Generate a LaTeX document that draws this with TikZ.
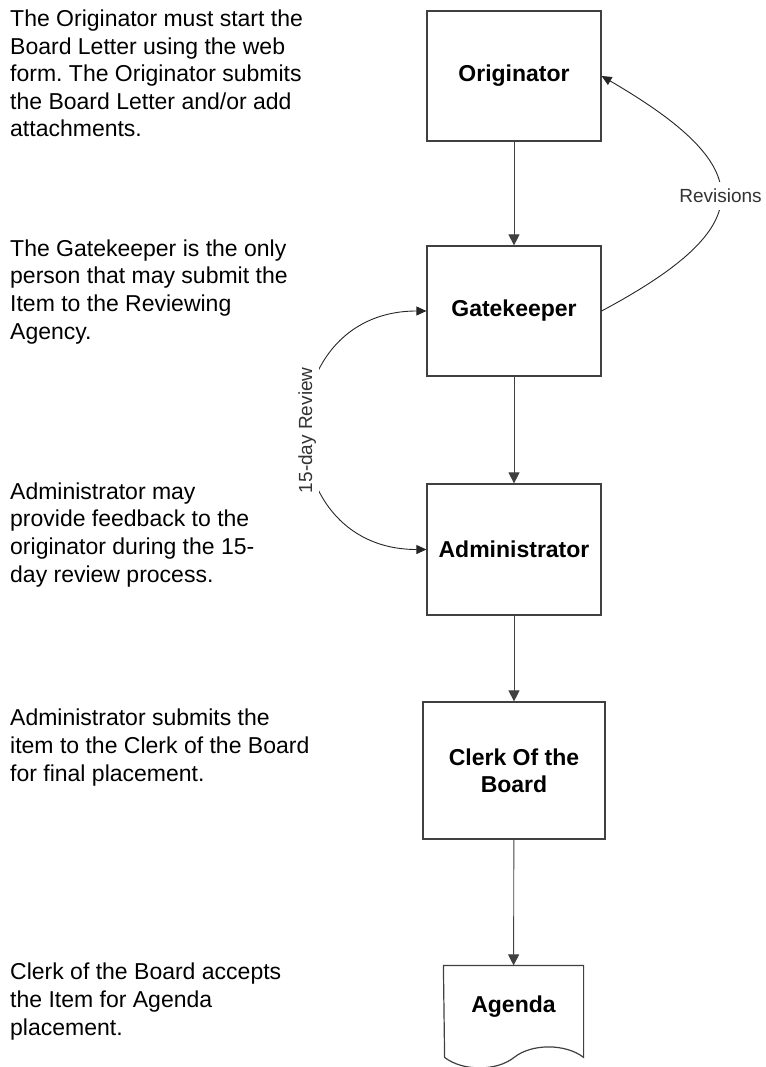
\documentclass[tikz,border=0pt]{standalone}
\usepackage{fontspec}
\setmainfont{Liberation Sans}
\usetikzlibrary{arrows.meta}
\frenchspacing

\tikzset{
    stagebox/.style={draw=black!75, line width=1.2pt, minimum width=174pt,
        minimum height=130pt, align=center,
        font=\fontsize{23}{27}\selectfont\bfseries},
    flow/.style={draw=black!75, line width=0.9pt, -{Triangle[length=11pt,width=11pt]}},
    loopback/.style={draw=black!85, line width=0.9pt, -{Triangle[length=10pt,width=9pt]}},
    note/.style={anchor=base west, inner sep=0pt, align=left,
        font=\fontsize{23}{27.6}\selectfont},
    tag/.style={fill=white, text=black!80, font=\fontsize{19}{22}\selectfont},
}

\begin{document}
\begin{tikzpicture}[x=1pt, y=-1pt]
    \useasboundingbox (0,0) rectangle (765,1067);

    % Descriptions on the left (placed at the baseline of their last line)
    \node[note] (n1) at (10,137) {The Originator must start the\\Board Letter using the web\\form. The Originator submits\\the Board Letter and/or add\\attachments.};
    \node[note] (n2) at (10,339) {The Gatekeeper is the only\\person that may submit the\\Item to the Reviewing\\Agency.};
    \node[note] (n3) at (10,582) {Administrator may\\provide feedback to the\\originator during the 15-\\day review process.};
    \node[note] (n4) at (10,781) {Administrator submits the\\item to the Clerk of the Board\\for final placement.};
    \node[note] (n5) at (10,1035) {Clerk of the Board accepts\\the Item for Agenda\\placement.};

    % Process boxes
    \node[stagebox] (orig) at (514,76) {Originator};
    \node[stagebox] (gate) at (514,311) {Gatekeeper};
    \node[stagebox, minimum height=131pt] (admin) at (514,549.5) {Administrator};
    \node[stagebox, minimum width=182pt, minimum height=137pt] (clerk) at (514,770.5) {Clerk Of the\\Board};

    % Agenda (document shape)
    \node[stagebox, draw=none, minimum width=139pt, minimum height=82pt] (agenda) at (513.5,1007) {Agenda};
    \draw[draw=black!75, line width=1.2pt] (agenda.north west) -- (agenda.north east) -- ++(0,92)
        .. controls +(-18,-14) and +(17.5,-14) .. ++(-69.5,0)
        .. controls +(-17.5,14) and +(18,14) .. ++(-69.5,0) -- cycle;

    % Main flow
    \foreach \a/\b in {orig/gate, gate/admin, admin/clerk, clerk/agenda} {
        \draw[flow] (\a) -- (\b);
    }

    % Revisions back to the originator
    \draw[loopback] (gate.east) .. controls +(159,-85) and +(158,92) .. (orig.east)
        node[tag, midway, inner sep=7pt] (rev) {Revisions};

    % 15-day review
    \draw[loopback, {Triangle[length=10pt,width=9pt]}-{Triangle[length=10pt,width=9pt]}]
        (gate.west) .. controls +(-159,0) and +(-159,0) .. (admin.west)
        node[tag, midway, rotate=90, inner sep=3pt] (review) {15-day Review};
\end{tikzpicture}
\end{document}
